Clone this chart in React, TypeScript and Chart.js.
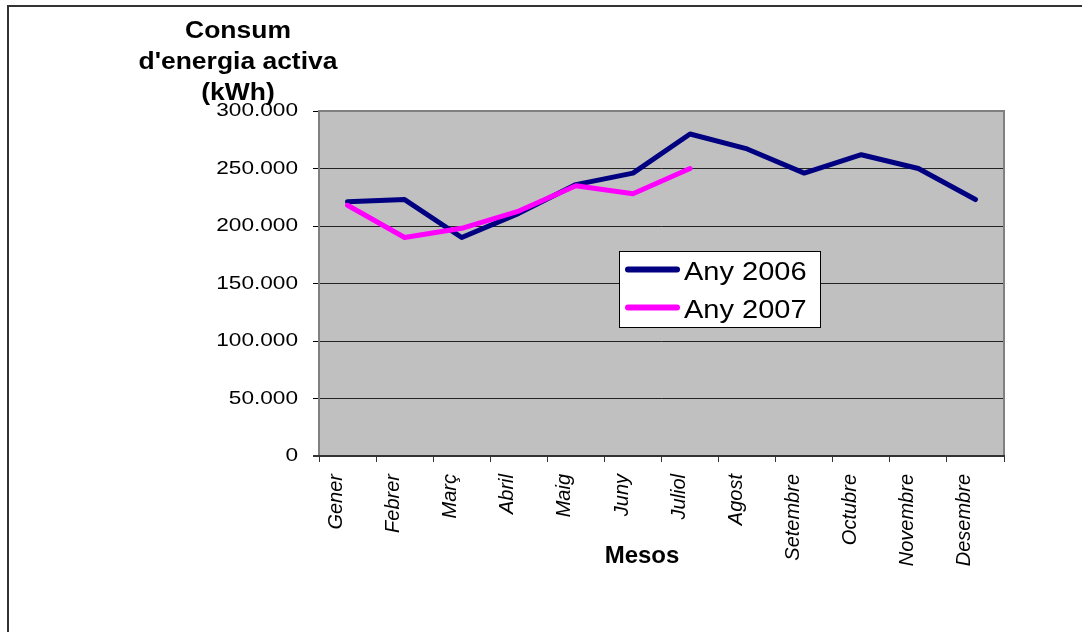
import React, { useEffect, useRef } from 'react';
import { Chart, registerables } from 'chart.js';

Chart.register(...registerables);

// Monthly active-energy consumption (kWh)
const months = ['Gener', 'Febrer', 'Març', 'Abril', 'Maig', 'Juny', 'Juliol', 'Agost', 'Setembre', 'Octubre', 'Novembre', 'Desembre'];
const consum2006 = [221000, 223000, 190000, 211000, 236000, 246000, 280000, 267000, 246000, 262000, 250000, 223000];
const consum2007 = [218000, 190000, 198000, 213000, 235000, 228000, 250000];
const seriesNames = ['Any 2006', 'Any 2007'];
const seriesColors = ['#000080', '#FF00FF'];
const yMin = 0;
const yMax = 300000;
const yStep = 50000;
const yTitleLines = ['Consum', "d'energia activa", '(kWh)'];
const xTitle = 'Mesos';

const FONT = "'Liberation Sans', Arial, sans-serif";

// Catalan thousands separator
const fmt = (v: number) => String(v).replace(/\B(?=(\d{3})+(?!\d))/g, '.');

function wideText(ctx: CanvasRenderingContext2D, text: string, x: number, y: number, sx: number, align: CanvasTextAlign, baseline: CanvasTextBaseline = 'alphabetic') {
  ctx.save();
  ctx.translate(x, y);
  ctx.scale(sx, 1);
  ctx.textAlign = align;
  ctx.textBaseline = baseline;
  ctx.fillText(text, 0, 0);
  ctx.restore();
}

const decor = {
  id: 'decor',
  beforeDraw(chart: any) {
    const { ctx, chartArea: a } = chart;
    ctx.save();
    ctx.fillStyle = '#ffffff';
    ctx.fillRect(0, 0, chart.width, chart.height);
    ctx.fillStyle = '#C0C0C0';
    ctx.fillRect(a.left, a.top, a.right - a.left, a.bottom - a.top);
    // outer frame of the chart object
    ctx.strokeStyle = '#333333';
    ctx.lineWidth = 2;
    ctx.beginPath();
    ctx.moveTo(8, chart.height);
    ctx.lineTo(8, 6);
    ctx.lineTo(chart.width, 6);
    ctx.stroke();
    ctx.restore();
  },
  beforeDatasetsDraw(chart: any) {
    const { ctx, chartArea: a } = chart;
    ctx.save();
    ctx.strokeStyle = '#808080';
    ctx.lineWidth = 2;
    ctx.strokeRect(a.left, a.top, a.right - a.left, a.bottom - a.top);
    ctx.strokeStyle = '#333333';
    ctx.beginPath();
    ctx.moveTo(a.left - 6, a.bottom);
    ctx.lineTo(a.right + 1, a.bottom);
    ctx.stroke();
    ctx.restore();
  },
  afterDraw(chart: any) {
    const { ctx, chartArea: a } = chart;
    const y = chart.scales.y;
    ctx.save();
    ctx.fillStyle = '#000000';

    // value axis labels
    ctx.font = `19px ${FONT}`;
    y.ticks.forEach((t: any) => {
      wideText(ctx, fmt(t.value), a.left - 21, y.getPixelForValue(t.value), 1.19, 'right', 'middle');
    });

    // value axis title
    ctx.font = `bold 23px ${FONT}`;
    yTitleLines.forEach((line, i) => {
      wideText(ctx, line, a.left - 81, 38 + i * 31, 1.15, 'center');
    });

    // category axis title
    ctx.font = `bold 24px ${FONT}`;
    ctx.textAlign = 'center';
    ctx.fillText(xTitle, a.left + 323, 563);

    // legend
    const bx = 619.5, by = 251.5, bw = 201, bh = 76;
    ctx.fillStyle = '#ffffff';
    ctx.fillRect(bx, by, bw, bh);
    ctx.strokeStyle = '#000000';
    ctx.lineWidth = 1;
    ctx.strokeRect(bx, by, bw, bh);
    chart.data.datasets.forEach((ds: any, i: number) => {
      const ly = 269.5 + i * 38;
      ctx.strokeStyle = ds.borderColor;
      ctx.lineWidth = 6;
      ctx.lineCap = 'round';
      ctx.beginPath();
      ctx.moveTo(628, ly);
      ctx.lineTo(677, ly);
      ctx.stroke();
      ctx.fillStyle = '#000000';
      ctx.font = `25px ${FONT}`;
      wideText(ctx, ds.label, 684, 280 + i * 38, 1.16, 'left');
    });
    ctx.restore();
  },
};

export default function App() {
  const ref = useRef<HTMLCanvasElement>(null);

  useEffect(() => {
    if (!ref.current) return;
    const chart = new Chart(ref.current, {
      type: 'line',
      data: {
        labels: months,
        datasets: [
          {
            label: seriesNames[0],
            data: consum2006,
            borderColor: seriesColors[0],
            backgroundColor: seriesColors[0],
            borderWidth: 5,
            pointRadius: 0,
            tension: 0,
            borderJoinStyle: 'round',
            borderCapStyle: 'round',
            order: 1,
          },
          {
            label: seriesNames[1],
            data: consum2007,
            borderColor: seriesColors[1],
            backgroundColor: seriesColors[1],
            borderWidth: 5,
            pointRadius: 0,
            tension: 0,
            borderJoinStyle: 'round',
            borderCapStyle: 'round',
            order: 0,
          },
        ],
      },
      options: {
        responsive: false,
        animation: false,
        devicePixelRatio: 1,
        layout: { padding: { left: 0, right: 78, top: 111, bottom: 0 } },
        plugins: {
          legend: { display: false },
          tooltip: { enabled: false },
          title: { display: false },
        },
        scales: {
          x: {
            type: 'category',
            offset: true,
            afterFit: (s: any) => { s.height = 176; },
            grid: {
              offset: true,
              drawOnChartArea: false,
              drawTicks: true,
              tickLength: 6,
              tickColor: '#333333',
              lineWidth: 1,
            },
            border: { display: false },
            ticks: {
              autoSkip: false,
              minRotation: 90,
              maxRotation: 90,
              padding: 12,
              labelOffset: -11,
              color: '#000000',
              font: { family: FONT, size: 20, style: 'italic' },
            },
          },
          y: {
            min: yMin,
            max: yMax,
            afterFit: (s: any) => { s.width = 319; },
            grid: {
              color: '#222222',
              lineWidth: 1,
              drawTicks: true,
              tickLength: 6,
              tickColor: '#000000',
            },
            border: { display: false },
            ticks: {
              stepSize: yStep,
              display: false,
            },
          },
        },
      },
      plugins: [decor],
    });
    return () => chart.destroy();
  }, []);

  return (
    <div style={{ position: 'fixed', left: 0, top: 0, width: 1082, height: 632 }}>
      <canvas ref={ref} width={1082} height={632} />
    </div>
  );
}
